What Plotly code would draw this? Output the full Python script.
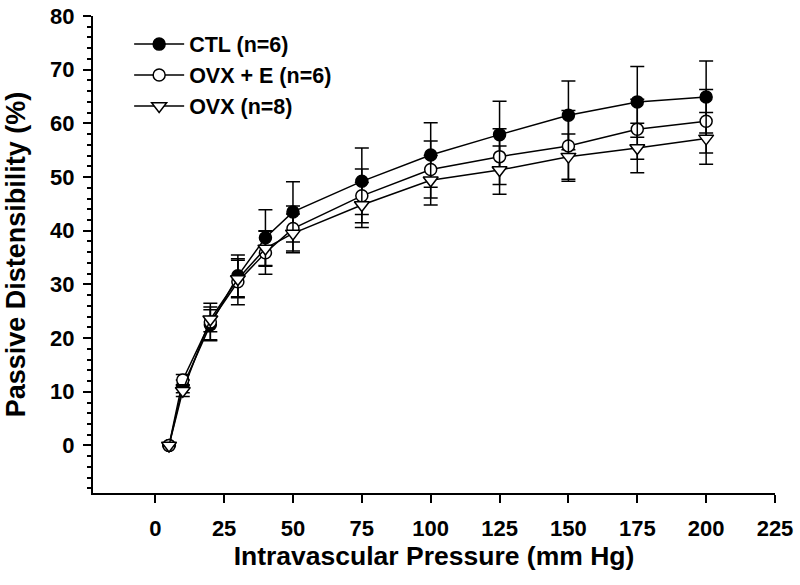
import plotly.graph_objects as go

pressure = [5, 10, 20, 30, 40, 50, 75, 100, 125, 150, 175, 200]

ctl = [0, 11.0, 22.5, 31.6, 38.7, 43.5, 49.2, 54.1, 57.9, 61.5, 64.0, 64.9]
ctl_err = [0, 1.2, 2.8, 3.9, 5.2, 5.6, 6.2, 6.0, 6.2, 6.4, 6.6, 6.7]

ovxe = [0, 12.2, 23.0, 30.5, 35.9, 40.4, 46.5, 51.4, 53.8, 55.8, 58.9, 60.4]
ovxe_err = [0, 1.0, 3.5, 4.3, 4.0, 4.2, 5.0, 5.3, 5.2, 6.6, 5.6, 5.9]

ovx = [0, 10.2, 23.5, 31.0, 36.7, 39.5, 44.8, 49.4, 51.3, 53.8, 55.4, 57.2]
ovx_err = [0, 1.1, 2.3, 3.5, 3.3, 3.6, 4.2, 4.6, 4.5, 4.2, 4.6, 4.8]

series_names = ["CTL (n=6)", "OVX + E (n=6)", "OVX (n=8)"]
x_ticks = [0, 25, 50, 75, 100, 125, 150, 175, 200, 225]
y_ticks = [0, 10, 20, 30, 40, 50, 60, 70, 80]

FONT = "Liberation Sans, Arial, sans-serif"

fig = go.Figure()

styles = [
    dict(symbol="circle", size=12, color="black"),
    dict(symbol="circle", size=12, color="white"),
    dict(symbol="triangle-down", size=13, color="white"),
]

for name, y, err, st in zip(series_names, [ctl, ovxe, ovx], [ctl_err, ovxe_err, ovx_err], styles):
    fig.add_trace(go.Scatter(
        x=pressure, y=y, name=name, mode="lines+markers",
        line=dict(color="black", width=1.5),
        marker=dict(symbol=st["symbol"], size=st["size"], color=st["color"],
                    line=dict(color="black", width=1.5)),
        error_y=dict(type="data", array=err, visible=True, color="black",
                     thickness=1.5, width=7),
    ))

fig.update_layout(
    width=800, height=585,
    margin=dict(l=93, r=25, t=16, b=92, autoexpand=False),
    paper_bgcolor="white", plot_bgcolor="white",
    font=dict(family=FONT, size=22, color="black", weight="bold"),
    showlegend=True,
    legend=dict(
        x=0.053, y=0.984, xanchor="left", yanchor="top",
        bgcolor="rgba(0,0,0,0)", borderwidth=0,
        font=dict(family=FONT, size=21.5, color="black", weight="bold"),
        itemwidth=50, tracegroupgap=0,
    ),
)

fig.update_xaxes(
    range=[-22.6, 225], tickmode="array", tickvals=x_ticks, automargin=False,
    showline=True, linecolor="black", linewidth=2, mirror=False,
    ticks="outside", ticklen=8, tickwidth=2, tickcolor="black",
    showgrid=False, zeroline=False,
    tickfont=dict(family=FONT, size=22, weight="bold"),
    ticklabelstandoff=7,
    title=dict(text="Intravascular Pressure (mm Hg)",
               font=dict(family=FONT, size=26.5, weight="bold"), standoff=6),
)

fig.update_yaxes(
    range=[-8.86, 80], tickmode="array", tickvals=y_ticks, automargin=False,
    showline=True, linecolor="black", linewidth=2, mirror=False,
    ticks="outside", ticklen=8, tickwidth=2, tickcolor="black",
    minor=dict(ticks="outside", ticklen=4, tickwidth=1.5, tickcolor="black",
               dtick=2, tick0=0, showgrid=False),
    showgrid=False, zeroline=False,
    tickfont=dict(family=FONT, size=22, weight="bold"),
    ticklabelstandoff=4,
    title=dict(text="Passive Distensibility (%)",
               font=dict(family=FONT, size=27, weight="bold"), standoff=17),
)

fig.write_html("out.html", config={"displayModeBar": False},
               post_script="document.body.style.margin='0';")
